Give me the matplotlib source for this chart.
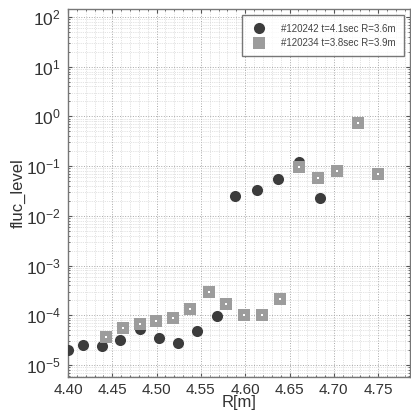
import matplotlib
matplotlib.use('Agg')
import matplotlib.pyplot as plt
from matplotlib.ticker import MultipleLocator, LogLocator, NullFormatter
import numpy as np

plt.rcParams['font.family'] = ['Liberation Sans', 'DejaVu Sans']
plt.rcParams['mathtext.default'] = 'regular'

# shot #120242 (dark circles)
r_120242 = [4.400, 4.417, 4.438, 4.459, 4.481, 4.503, 4.524, 4.546, 4.568,
            4.589, 4.613, 4.637, 4.661, 4.684]
fluc_120242 = [2.0e-5, 2.55e-5, 2.4e-5, 3.2e-5, 5.4e-5, 3.5e-5, 2.8e-5, 4.9e-5, 9.7e-5,
               0.025, 0.033, 0.055, 0.12, 0.023]

# shot #120234 (grey squares)
r_120234 = [4.443, 4.462, 4.481, 4.499, 4.519, 4.538, 4.559, 4.578, 4.599,
            4.619, 4.639, 4.661, 4.682, 4.704, 4.727, 4.750]
fluc_120234 = [3.7e-5, 5.5e-5, 6.8e-5, 7.7e-5, 8.8e-5, 1.34e-4, 3.0e-4, 1.7e-4, 1.0e-4,
               1.0e-4, 2.1e-4, 0.097, 0.058, 0.081, 0.74, 0.071]

label_120242 = '#120242 t=4.1sec R=3.6m'
label_120234 = '#120234 t=3.8sec R=3.9m'
xtick_vals = [4.40, 4.45, 4.50, 4.55, 4.60, 4.65, 4.70, 4.75]
xtick_labels = ['4.40', '4.45', '4.50', '4.55', '4.60', '4.65', '4.70', '4.75']
ytick_exps = [-5, -4, -3, -2, -1, 0, 1, 2]

fig = plt.figure(figsize=(4.11, 4.12), dpi=100)
ax = fig.add_axes([68/411, 35/412, (410-68)/411, (377-9)/412])

ax.set_yscale('log')
ax.plot(r_120242, fluc_120242, 'o', color='#3c3c3c', markersize=8, markeredgewidth=0,
        label=label_120242, zorder=3)
ax.plot(r_120234, fluc_120234, 's', color='#9c9c9c', markersize=9, markeredgewidth=0,
        label=label_120234, zorder=4)
ax.plot(r_120234, fluc_120234, 's', color='white', markersize=2, markeredgewidth=0, zorder=5)

ax.set_xlim(4.40, 4.786)
ax.set_ylim(10**-5.24, 10**2.16)

ax.xaxis.set_minor_locator(MultipleLocator(0.01))
ax.set_yticks([10.0**e for e in ytick_exps])
ax.set_yticklabels(['$10^{%d}$' % e for e in ytick_exps])
ax.yaxis.set_minor_locator(LogLocator(base=10, subs=np.arange(2, 10), numticks=20))
ax.yaxis.set_minor_formatter(NullFormatter())
ax.set_xticks(xtick_vals)
ax.set_xticklabels(xtick_labels)

ax.grid(True, which='major', linestyle=':', color='#a8a8a8', linewidth=0.7)
ax.grid(True, which='minor', linestyle=':', color='#c8c8c8', linewidth=0.5)
ax.tick_params(which='both', direction='in', top=True, right=True, colors='#555555',
               labelcolor='#333333')
ax.tick_params(axis='x', labelsize=11, pad=4)
ax.tick_params(axis='y', labelsize=12.5, pad=5)
ax.tick_params(which='major', length=3)
ax.tick_params(which='minor', length=1.5)
for s in ax.spines.values():
    s.set_color('#777777')
    s.set_linewidth(1.0)

ax.set_xlabel('R[m]', fontsize=12, color='#333333', labelpad=-1)
ax.set_ylabel('fluc_level', fontsize=12, color='#333333', labelpad=0)

leg = ax.legend(loc='upper right', fontsize=7, frameon=True, fancybox=False,
                edgecolor='#555555', borderpad=0.85, handletextpad=1.3, handlelength=1.8,
                labelspacing=0.45, borderaxespad=0.65, markerscale=1.0)
leg.get_frame().set_linewidth(1.0)
for t in leg.get_texts():
    t.set_color('#444444')

fig.savefig('out.png', dpi=100)
